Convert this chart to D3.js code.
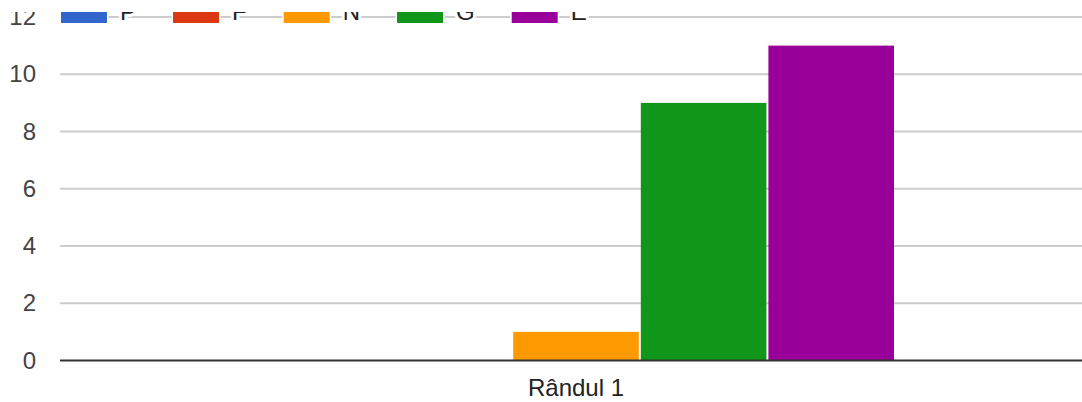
<!DOCTYPE html>
<html>
<head>
<meta charset="utf-8">
<script src="https://cdn.jsdelivr.net/npm/d3@7"></script>
<style>
  html, body { margin: 0; padding: 0; background: #fff; }
  svg { display: block; font-family: "Liberation Sans", Arial, sans-serif; }
</style>
</head>
<body>
<svg id="chart" width="1082" height="402"></svg>
<script>
// Data
const categories = ["Rândul 1"];
const seriesNames = ["P", "F", "N", "G", "E"];
const seriesColors = ["#3366cc", "#dc3912", "#ff9900", "#109618", "#990099"];
const seriesValues = [[0], [0], [1], [9], [11]];
const yTicks = [0, 2, 4, 6, 8, 10, 12];

const W = 1082, H = 402;
const plot = { left: 60, right: 1092, top: 17, bottom: 360.5 };

const svg = d3.select("#chart");

// Everything above this line is cut away
svg.append("defs").append("clipPath").attr("id", "view")
  .append("rect").attr("x", 0).attr("y", 12).attr("width", W).attr("height", H - 12);
const root = svg.append("g").attr("clip-path", "url(#view)");

const y = d3.scaleLinear().domain([0, 12]).range([plot.bottom, plot.top]);
const x0 = d3.scaleBand().domain(categories).range([plot.left, plot.right])
  .paddingInner(0).paddingOuter(0.3113);
const x1 = d3.scaleBand().domain(seriesNames).range([0, x0.bandwidth()])
  .paddingInner(0.0156).paddingOuter(0);

// Gridlines
root.append("g").selectAll("line").data(yTicks.filter(t => t !== 0)).join("line")
  .attr("x1", plot.left).attr("x2", W)
  .attr("y1", d => y(d)).attr("y2", d => y(d))
  .attr("stroke", "#cccccc").attr("stroke-width", 2);

// Y axis labels
const yAxis = d3.axisLeft(y).tickValues(yTicks).tickSize(0).tickPadding(0);
const yg = root.append("g").attr("transform", "translate(36,0)").call(yAxis);
yg.select(".domain").remove();
yg.selectAll("text")
  .attr("font-size", 24).attr("fill", "#444").attr("font-family", "Liberation Sans, Arial, sans-serif");

// Bars
const groups = root.append("g").selectAll("g").data(categories).join("g")
  .attr("transform", d => `translate(${x0(d)},0)`);
groups.selectAll("rect")
  .data((c, ci) => seriesNames.map((s, si) => ({ s, color: seriesColors[si], v: seriesValues[si][ci] })))
  .join("rect")
  .attr("x", d => x1(d.s))
  .attr("width", x1.bandwidth())
  .attr("y", d => y(d.v))
  .attr("height", d => y(0) - y(d.v))
  .attr("fill", d => d.color);

// Baseline
root.append("line")
  .attr("x1", plot.left).attr("x2", W)
  .attr("y1", y(0)).attr("y2", y(0))
  .attr("stroke", "#333333").attr("stroke-width", 2);

// X axis labels
const xAxis = d3.axisBottom(x0).tickSize(0).tickPadding(0);
const xg = root.append("g").attr("transform", "translate(0,379)").call(xAxis);
xg.select(".domain").remove();
xg.selectAll("text")
  .attr("font-size", 24).attr("fill", "#222").attr("font-family", "Liberation Sans, Arial, sans-serif")
  .attr("dy", "0.71em");

// Legend
const legend = root.append("g");
let lx = 61;
seriesNames.forEach((name, i) => {
  legend.append("rect")
    .attr("x", lx).attr("y", 6).attr("width", 46).attr("height", 17)
    .attr("fill", seriesColors[i]).attr("stroke", "#fff").attr("stroke-width", 3)
    .attr("paint-order", "stroke");
  const t = legend.append("text")
    .attr("x", lx + 59).attr("y", 20)
    .attr("font-size", 24).attr("fill", "#222")
    .attr("stroke", "#fff").attr("stroke-width", 6).attr("paint-order", "stroke")
    .text(name);
  lx += 59 + t.node().getComputedTextLength() + 37;
});
</script>
</body>
</html>
